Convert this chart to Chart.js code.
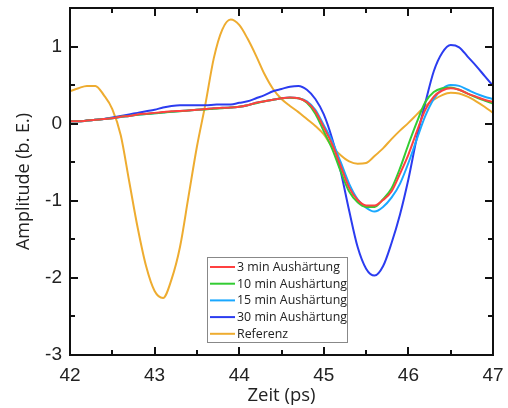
<!DOCTYPE html>
<html>
<head>
<meta charset="utf-8">
<script src="https://cdn.jsdelivr.net/npm/chart.js@4"></script>
<style>
  html, body { margin: 0; padding: 0; background: #fff; }
  #wrap { width: 508px; height: 408px; }
</style>
</head>
<body>
<div id="wrap"><canvas id="pulseChart"></canvas></div>
<script>
const zeit = [42.0, 42.1, 42.2, 42.3, 42.4, 42.5, 42.6, 42.7, 42.8, 42.9,
  43.0, 43.1, 43.2, 43.3, 43.4, 43.5, 43.6, 43.7, 43.8, 43.9,
  44.0, 44.1, 44.2, 44.3, 44.4, 44.5, 44.6, 44.7, 44.8, 44.9,
  45.0, 45.1, 45.2, 45.3, 45.4, 45.5, 45.6, 45.7, 45.8, 45.9,
  46.0, 46.1, 46.2, 46.3, 46.4, 46.5, 46.6, 46.7, 46.8, 46.9, 47.0];

const min3 = [0.03, 0.03, 0.04, 0.05, 0.06, 0.07, 0.09, 0.10, 0.12, 0.13,
  0.14, 0.15, 0.16, 0.165, 0.17, 0.18, 0.19, 0.20, 0.205, 0.21,
  0.22, 0.24, 0.27, 0.29, 0.31, 0.33, 0.34, 0.33, 0.28, 0.16,
  -0.05, -0.27, -0.55, -0.83, -0.99, -1.06, -1.06, -0.99, -0.88, -0.65,
  -0.40, -0.10, 0.18, 0.35, 0.43, 0.46, 0.44, 0.39, 0.35, 0.31, 0.28];

const min10 = [0.03, 0.03, 0.04, 0.05, 0.06, 0.07, 0.09, 0.10, 0.115, 0.125,
  0.135, 0.145, 0.155, 0.16, 0.17, 0.18, 0.185, 0.195, 0.20, 0.21,
  0.22, 0.24, 0.265, 0.29, 0.31, 0.33, 0.335, 0.33, 0.27, 0.13,
  -0.10, -0.33, -0.62, -0.88, -1.02, -1.08, -1.08, -0.98, -0.84, -0.58,
  -0.27, 0.02, 0.28, 0.41, 0.46, 0.47, 0.44, 0.39, 0.34, 0.30, 0.26];

const min15 = [0.03, 0.03, 0.04, 0.05, 0.06, 0.07, 0.085, 0.10, 0.115, 0.125,
  0.135, 0.145, 0.155, 0.165, 0.17, 0.18, 0.19, 0.20, 0.205, 0.21,
  0.22, 0.24, 0.27, 0.29, 0.31, 0.33, 0.34, 0.33, 0.29, 0.18,
  -0.02, -0.23, -0.50, -0.78, -0.98, -1.09, -1.14, -1.08, -0.96, -0.78,
  -0.51, -0.20, 0.10, 0.32, 0.45, 0.50, 0.49, 0.44, 0.39, 0.35, 0.32];

const min30 = [0.03, 0.03, 0.04, 0.05, 0.06, 0.08, 0.10, 0.12, 0.14, 0.16,
  0.18, 0.21, 0.23, 0.24, 0.24, 0.24, 0.24, 0.245, 0.25, 0.25,
  0.27, 0.29, 0.33, 0.37, 0.42, 0.45, 0.48, 0.49, 0.44, 0.32,
  0.12, -0.20, -0.62, -1.13, -1.60, -1.88, -1.97, -1.85, -1.55, -1.18,
  -0.72, -0.18, 0.27, 0.68, 0.92, 1.02, 0.99, 0.87, 0.75, 0.62, 0.49];

const referenz = [0.42, 0.46, 0.49, 0.49, 0.37, 0.19, -0.15, -0.75, -1.35, -1.85,
  -2.17, -2.26, -2.02, -1.60, -0.95, -0.30, 0.25, 0.85, 1.22, 1.35,
  1.28, 1.10, 0.88, 0.64, 0.45, 0.32, 0.23, 0.15, 0.06, -0.03,
  -0.14, -0.30, -0.41, -0.49, -0.52, -0.51, -0.42, -0.32, -0.20, -0.09,
  0.01, 0.12, 0.23, 0.31, 0.37, 0.40, 0.39, 0.35, 0.29, 0.22, 0.14];

const seriesLabels = ['3 min Aushärtung', '10 min Aushärtung', '15 min Aushärtung', '30 min Aushärtung', 'Referenz'];
const seriesColors = ['#ff4040', '#33cc33', '#1aa8ff', '#2b3cf0', '#eeac30'];
const seriesValues = [min3, min10, min15, min30, referenz];

const xTicks = [42, 43, 44, 45, 46, 47];
const yTicks = [-3, -2, -1, 0, 1];
const xMinorTicks = [42.5, 43.5, 44.5, 45.5, 46.5];
const yMinorTicks = [-2.5, -1.5, -0.5, 0.5, 1.5];

function tickPath(ctx, a, xs, ys, xVals, yVals, len) {
  ctx.beginPath();
  xVals.forEach(v => {
    const px = Math.round(xs.getPixelForValue(v));
    ctx.moveTo(px, a.bottom);
    ctx.lineTo(px, a.bottom - len);
    ctx.moveTo(px, a.top);
    ctx.lineTo(px, a.top + len);
  });
  yVals.forEach(v => {
    const py = Math.round(ys.getPixelForValue(v));
    ctx.moveTo(a.left, py);
    ctx.lineTo(a.left + len, py);
    ctx.moveTo(a.right, py);
    ctx.lineTo(a.right - len, py);
  });
  ctx.stroke();
}

// frame, inward ticks on all four sides, and the boxed legend
const framePlugin = {
  id: 'frame',
  afterDraw(chart) {
    const ctx = chart.ctx;
    const a = chart.chartArea;
    const xs = chart.scales.x, ys = chart.scales.y;
    ctx.save();
    ctx.strokeStyle = '#111';
    ctx.lineWidth = 2;
    ctx.beginPath();
    ctx.moveTo(a.left, a.top);
    ctx.lineTo(a.right, a.top);
    ctx.lineTo(a.right, a.bottom);
    ctx.lineTo(a.left, a.bottom);
    ctx.closePath();
    ctx.stroke();

    ctx.lineWidth = 2;
    tickPath(ctx, a, xs, ys, xTicks, yTicks, 8);
    tickPath(ctx, a, xs, ys, xMinorTicks, yMinorTicks, 5);

    // legend
    const lx = 207, ly = 257, lw = 140, lh = 85;
    ctx.fillStyle = '#fff';
    ctx.fillRect(lx, ly, lw, lh);
    ctx.strokeStyle = '#888';
    ctx.lineWidth = 1;
    ctx.strokeRect(lx + 0.5, ly + 0.5, lw, lh);
    ctx.font = '12.4px "Open Sans", sans-serif';
    ctx.textBaseline = 'middle';
    ctx.textAlign = 'left';
    seriesLabels.forEach((label, i) => {
      const y = ly + 10 + i * 16.7;
      ctx.strokeStyle = seriesColors[i];
      ctx.lineWidth = 2;
      ctx.beginPath();
      ctx.moveTo(lx + 3, y);
      ctx.lineTo(lx + 28, y);
      ctx.stroke();
      ctx.fillStyle = '#222';
      ctx.fillText(label, lx + 30, y + 0.5);
    });
    ctx.restore();
  }
};

const datasets = seriesValues.map((vals, i) => ({
  label: seriesLabels[i],
  data: zeit.map((t, k) => ({ x: t, y: vals[k] })),
  borderColor: seriesColors[i],
  backgroundColor: 'transparent',
  borderWidth: 2,
  pointRadius: 0,
  cubicInterpolationMode: 'monotone'
}));

new Chart(document.getElementById('pulseChart'), {
  type: 'line',
  data: { datasets: datasets },
  options: {
    responsive: true,
    maintainAspectRatio: false,
    animation: false,
    layout: {
      padding: { top: 8, right: 15, bottom: 0, left: 0 }
    },
    plugins: {
      legend: { display: false },
      tooltip: { enabled: false }
    },
    scales: {
      x: {
        type: 'linear',
        min: 42,
        max: 47,
        afterBuildTicks: (s) => { s.ticks = xTicks.map(v => ({ value: v })); },
        afterFit: (s) => {
          s.height = 53;
          s.paddingLeft = 0;
          s.paddingRight = 0;
        },
        grid: { display: false, drawTicks: false },
        border: { display: false },
        ticks: {
          color: '#222',
          padding: 9,
          font: { family: '"Liberation Sans", Arial, sans-serif', size: 19 }
        },
        title: {
          display: true,
          text: 'Zeit (ps)',
          color: '#222',
          padding: { top: 0, bottom: 1 },
          font: { family: '"Open Sans", sans-serif', size: 18.5 }
        }
      },
      y: {
        min: -3,
        max: 1.5,
        afterBuildTicks: (s) => { s.ticks = yTicks.map(v => ({ value: v })); },
        afterFit: (s) => {
          s.width = 70;
          s.paddingTop = 0;
          s.paddingBottom = 0;
        },
        grid: { display: false, drawTicks: false },
        border: { display: false },
        ticks: {
          color: '#222',
          padding: 8,
          font: { family: '"Liberation Sans", Arial, sans-serif', size: 19 }
        },
        title: {
          display: true,
          text: 'Amplitude (b. E.)',
          color: '#222',
          padding: { top: 13, bottom: 0 },
          font: { family: '"Open Sans", sans-serif', size: 18 }
        }
      }
    }
  },
  plugins: [framePlugin]
});
</script>
</body>
</html>
